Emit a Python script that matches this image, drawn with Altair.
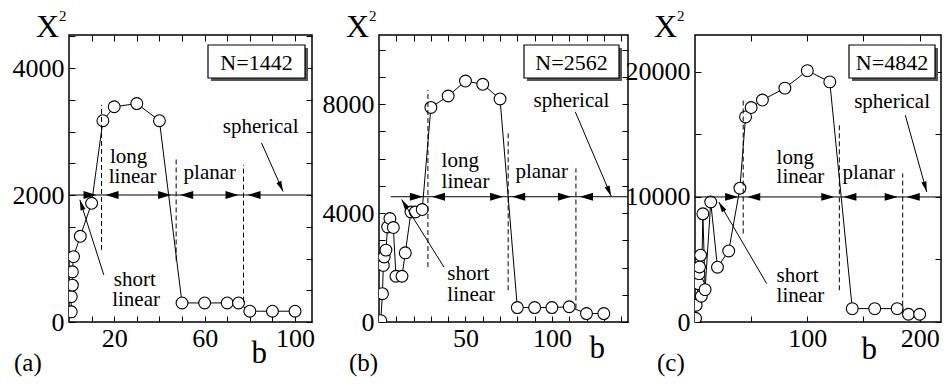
import math
import altair as alt
import pandas as pd

FONT = "Liberation Serif"
H = 287

# ---------------- data ----------------
# panel (a)  N=1442
a_b = [1, 1, 1.5, 1.5, 2, 5, 10, 15, 20, 30, 40, 50, 60, 70, 75, 80, 90, 100]
a_x2 = [160, 400, 580, 790, 1030, 1350, 1870, 3170, 3390, 3440, 3170,
        300, 300, 300, 300, 170, 170, 170]
# panel (b)  N=2562
b_b = [1, 2, 2.5, 3, 4, 5, 6.3, 8.3, 9.8, 13.3, 15.2, 18.5, 21, 25, 30, 40,
       50, 60, 70, 80, 90, 100, 110, 120, 130]
b_x2 = [50, 1040, 2080, 2390, 2640, 3490, 3800, 3470, 1680, 1680, 2540, 4040,
        4040, 4130, 7880, 8300, 8850, 8730, 8190, 530, 530, 530, 560, 310, 310]
# panel (c)  N=4842
c_b = [0.5, 1, 3, 3.5, 4, 5, 5.6, 7, 9, 14, 20, 30, 40, 45, 50, 60, 80, 100,
       120, 140, 160, 180, 190, 200]
c_x2 = [300, 1340, 3070, 3870, 4400, 5340, 2060, 8650, 2590, 9600, 4380, 5680,
        10700, 16400, 17150, 17750, 18700, 20100, 19200, 1070, 1070, 1070, 620, 620]

# region boundaries (dashed lines) and their vertical extent
a_bounds, a_dlo, a_dhi = [14.4, 47.4, 77.2], [1135, 970, 320], [3420, 2566, 2476]
b_bounds, b_dlo, b_dhi = [28.3, 74.7, 113.9], [2022, 1165, 493], [8518, 6926, 5640]
c_bounds, c_dlo, c_dhi = [42.9, 128.5, 184.9], [7072, 2536, 672], [17872, 15736, 11872]

# level of the horizontal arrow line and where it starts
a_level, a_lstart = 2000, 0
b_level, b_lstart = 4600, 6.8
c_level, c_lstart = 10000, 0

region_words = ["long", "linear", "planar", "spherical", "short", "linear"]
a_tx = [18.1, 17.6, 50.7, 68, 19.8, 19.1]
a_ty = [2503, 2188, 2256, 2976, 568, 252]
b_tx = [36.2, 36.2, 78.9, 89.4, 39.5, 39.5]
b_ty = [5699, 4926, 5272, 7904, 1559, 761]
c_tx = [72.6, 72.6, 131.4, 141.7, 72.6, 72.6]
c_ty = [12672, 11120, 11416, 17152, 3200, 1600]

# pointer arrows: "short linear" and "spherical" (start -> end)
a_arr = dict(sx=[15.4, 85.2], sy=[741, 2819], ex=[4.8, 94.7], ey=[1924, 2055])
b_arr = dict(sx=[37.5, 113.5], sy=[2022, 7720], ex=[13.1, 134.3], ey=[4500, 4621])
c_arr = dict(sx=[63.8, 187.2], sy=[3072, 16536], ex=[21.2, 206.3], ey=[9600, 10400])

RIGHT_HEAD = "M0,0L-2,-0.6L-2,0.6Z"
LEFT_HEAD = "M0,0L2,-0.6L2,0.6Z"
THIN_HEAD = "M0,0L-2,-0.5L-2,0.5Z"

T = 6  # tick length


def lab_expr(vals):
    cond = " || ".join(f"datum.value == {v}" for v in vals)
    return f"({cond}) ? datum.label : ''"


def panel(p):
    w = p["w"]
    xs = alt.Scale(domain=[0, p["xmax"]], nice=False, zero=False)
    ys = alt.Scale(domain=[0, p["ymax"]], nice=False, zero=False)
    common = dict(tickSize=T, offset=-T, domain=False, grid=False,
                  tickColor="black", tickWidth=1)
    ax_left = alt.Axis(orient="left", values=p["yt"], format="d",
                       labelExpr=lab_expr(p["yl"]),
                       labelFont=FONT, labelFontSize=26, labelColor="black",
                       labelFlush=False, labelOverlap=False, labelPadding=5,
                       title=None, **common)
    ax_bottom = alt.Axis(orient="bottom", values=p["xt"], format="d",
                         labelExpr=lab_expr(p["xl"]),
                         labelFont=FONT, labelFontSize=26, labelColor="black",
                         labelFlush=False, labelOverlap=False, labelPadding=3,
                         title="b", titleFont=FONT, titleFontSize=31,
                         titleFontWeight="normal", titleColor="black",
                         titleAlign="left", titleBaseline="alphabetic",
                         titleX=p["bx"], titleY=p["by"] - (H - T), **common)
    ax_right = alt.Axis(orient="right", values=p["yt"], labels=False, title=None, **common)
    ax_top = alt.Axis(orient="top", values=p["xt"], labels=False, title=None, **common)

    ser = pd.DataFrame({"b": p["b"], "v": p["v"], "i": list(range(len(p["b"])))})
    line = alt.Chart(ser).mark_line(color="black", strokeWidth=1, clip=True).encode(
        x=alt.X("b:Q", scale=xs, axis=ax_bottom),
        y=alt.Y("v:Q", scale=ys, axis=ax_left),
        order="i:Q")
    pts = alt.Chart(ser).mark_point(shape="circle", filled=True, fill="white",
                                    stroke="black", strokeWidth=1.1, size=140,
                                    opacity=1, clip=True).encode(
        x=alt.X("b:Q", scale=xs, axis=ax_top),
        y=alt.Y("v:Q", scale=ys, axis=ax_right))

    lvl_df = pd.DataFrame({"x0": [p["lstart"]], "x1": [p["xmax"]], "y": [p["level"]]})
    lvl = alt.Chart(lvl_df).mark_rule(color="black", strokeWidth=1).encode(
        x=alt.X("x0:Q", scale=xs, axis=None), x2="x1:Q",
        y=alt.Y("y:Q", scale=ys, axis=None))

    dash_df = pd.DataFrame({"x": p["bounds"], "y1": p["dlo"], "y2": p["dhi"]})
    dash = alt.Chart(dash_df).mark_rule(color="black", strokeWidth=1,
                                        strokeDash=[5, 3]).encode(
        x=alt.X("x:Q", scale=xs, axis=None),
        y=alt.Y("y1:Q", scale=ys, axis=None), y2="y2:Q")

    head_df = pd.DataFrame({"x": p["bounds"], "y": [p["level"]] * len(p["bounds"])})
    rh = alt.Chart(head_df).mark_point(shape=RIGHT_HEAD, filled=True, color="black",
                                       size=170, opacity=1, xOffset=-5).encode(
        x=alt.X("x:Q", scale=xs, axis=None), y=alt.Y("y:Q", scale=ys, axis=None))
    lh = alt.Chart(head_df).mark_point(shape=LEFT_HEAD, filled=True, color="black",
                                       size=170, opacity=1, xOffset=4).encode(
        x=alt.X("x:Q", scale=xs, axis=None), y=alt.Y("y:Q", scale=ys, axis=None))

    sx_px = w / p["xmax"]
    sy_px = H / p["ymax"]
    arr = pd.DataFrame(p["arr"])
    arr["ang"] = [
        (math.degrees(math.atan2(-(ey - sy) * sy_px, (ex - sx) * sx_px)) + 360) % 360
        for sx, sy, ex, ey in zip(arr.sx, arr.sy, arr.ex, arr.ey)]
    ptr = alt.Chart(arr).mark_rule(color="black", strokeWidth=1).encode(
        x=alt.X("sx:Q", scale=xs, axis=None), x2="ex:Q",
        y=alt.Y("sy:Q", scale=ys, axis=None), y2="ey:Q")
    ptr_head = alt.Chart(arr).mark_point(shape=THIN_HEAD, filled=True, color="black",
                                         size=110, opacity=1).encode(
        x=alt.X("ex:Q", scale=xs, axis=None), y=alt.Y("ey:Q", scale=ys, axis=None),
        angle=alt.Angle("ang:Q", scale=None))

    txt_df = pd.DataFrame({"t": region_words, "x": p["tx"], "y": p["ty"]})
    txt = alt.Chart(txt_df).mark_text(align="left", baseline="alphabetic", font=FONT,
                                      fontSize=21, color="black").encode(
        x=alt.X("x:Q", scale=xs, axis=None), y=alt.Y("y:Q", scale=ys, axis=None),
        text="t:N")

    bw = p["boxw"]
    r = w - p["boxr"]
    lab_df = pd.DataFrame({"t": [p["label"]]})
    shadow = alt.Chart(lab_df).mark_rect(color="#555555").encode(
        x=alt.value(r - bw + 3), x2=alt.value(r + 3), y=alt.value(13), y2=alt.value(46))
    box = alt.Chart(lab_df).mark_rect(fill="white", stroke="black", strokeWidth=1.2).encode(
        x=alt.value(r - bw), x2=alt.value(r), y=alt.value(10), y2=alt.value(43))
    box_t = alt.Chart(lab_df).mark_text(align="center", baseline="alphabetic", font=FONT,
                                        fontSize=22, color="black").encode(
        x=alt.value(r - bw / 2), y=alt.value(35), text="t:N")

    ytitle = alt.Chart(pd.DataFrame({"t": ["X"]})).mark_text(
        align="left", baseline="alphabetic", font=FONT, fontSize=32, color="black").encode(
        x=alt.value(p["Xx"]), y=alt.value(2), text="t:N")
    ysup = alt.Chart(pd.DataFrame({"t": ["2"]})).mark_text(
        align="left", baseline="alphabetic", font=FONT, fontSize=15, color="black").encode(
        x=alt.value(p["Xx"] + 23), y=alt.value(-14), text="t:N")
    tag = alt.Chart(pd.DataFrame({"t": [p["tag"]]})).mark_text(
        align="left", baseline="alphabetic", font=FONT, fontSize=25, color="black").encode(
        x=alt.value(p["tagx"]), y=alt.value(336), text="t:N")

    return alt.layer(line, pts, lvl, dash, rh, lh, ptr, ptr_head, txt,
                     shadow, box, box_t, ytitle, ysup, tag).resolve_scale(
        x="shared", y="shared").resolve_axis(x="independent", y="independent").properties(
        width=w, height=H)


pa = panel(dict(w=243, xmax=107.5, ymax=4520, b=a_b, v=a_x2,
                xt=list(range(10, 101, 10)), xl=[20, 60, 100],
                yt=list(range(0, 4501, 500)), yl=[0, 2000, 4000],
                bounds=a_bounds, dlo=a_dlo, dhi=a_dhi, level=a_level, lstart=a_lstart,
                tx=a_tx, ty=a_ty, arr=a_arr, label="N=1442", boxw=97, boxr=7,
                Xx=-33, tag="(a)", tagx=-55, bx=182, by=327))
pb = panel(dict(w=249, xmax=144, ymax=10540, b=b_b, v=b_x2,
                xt=list(range(10, 141, 10)), xl=[50, 100],
                yt=list(range(0, 10001, 1000)), yl=[0, 4000, 8000],
                bounds=b_bounds, dlo=b_dlo, dhi=b_dhi, level=b_level, lstart=b_lstart,
                tx=b_tx, ty=b_ty, arr=b_arr, label="N=2562", boxw=95, boxr=9,
                Xx=-33, tag="(b)", tagx=-30, bx=210, by=322))
pc = panel(dict(w=246, xmax=219, ymax=22950, b=c_b, v=c_x2,
                xt=[50, 100, 150, 200], xl=[100, 200],
                yt=[0, 5000, 10000, 15000, 20000], yl=[0, 10000, 20000],
                bounds=c_bounds, dlo=c_dlo, dhi=c_dhi, level=c_level, lstart=c_lstart,
                tx=c_tx, ty=c_ty, arr=c_arr, label="N=4842", boxw=86, boxr=6,
                Xx=-41, tag="(c)", tagx=-38, bx=166, by=323))

chart = alt.hconcat(pa, pb, pc, spacing=67, bounds="flush").properties(
    padding={"left": 3, "top": 0, "right": 0, "bottom": 0},
    background="white").configure_view(stroke="black", strokeWidth=1.5)

chart.save("out.html", embed_options={"renderer": "svg", "actions": False})
